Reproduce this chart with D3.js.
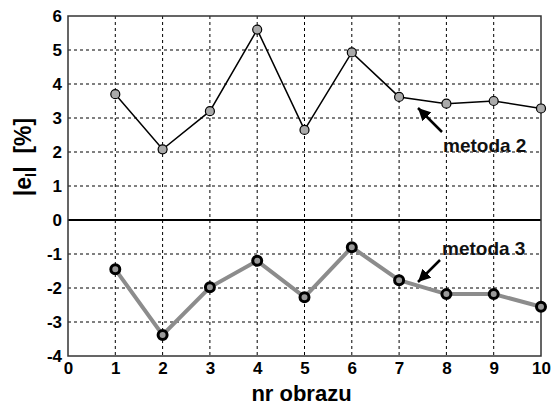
<!DOCTYPE html>
<html>
<head>
<meta charset="utf-8">
<script src="https://cdn.jsdelivr.net/npm/d3@7"></script>
<style>
  body { margin: 0; background: white; }
  text { font-family: "Liberation Sans", Arial, sans-serif; font-weight: bold; }
</style>
</head>
<body>
<svg id="chart" width="552" height="406"></svg>
<script>
// Data
var images = [1, 2, 3, 4, 5, 6, 7, 8, 9, 10];
var metoda2 = [3.7, 2.08, 3.2, 5.6, 2.65, 4.93, 3.62, 3.42, 3.5, 3.28];
var metoda3 = [-1.45, -3.38, -1.98, -1.2, -2.27, -0.8, -1.77, -2.18, -2.18, -2.55];
var xTicks = [0, 1, 2, 3, 4, 5, 6, 7, 8, 9, 10];
var yTicks = [-4, -3, -2, -1, 0, 1, 2, 3, 4, 5, 6];

var svg = d3.select("#chart");
var pLeft = 68, pRight = 541, pTop = 16, pBottom = 356;

var x = d3.scaleLinear().domain([0, 10]).range([pLeft, pRight]);
var y = d3.scaleLinear().domain([-4, 6]).range([pBottom, pTop]);

// Grid
svg.append("g")
  .selectAll("line")
  .data(xTicks.slice(1, -1))
  .enter()
  .append("line")
  .attr("x1", (d) => x(d)).attr("x2", (d) => x(d))
  .attr("y1", pTop).attr("y2", pBottom)
  .attr("stroke", "black").attr("stroke-width", 1)
  .attr("stroke-dasharray", "3,3");

svg.append("g")
  .selectAll("line")
  .data(yTicks.filter((d) => d != 0 && d != -4 && d != 6))
  .enter()
  .append("line")
  .attr("x1", pLeft).attr("x2", pRight)
  .attr("y1", (d) => y(d)).attr("y2", (d) => y(d))
  .attr("stroke", "black").attr("stroke-width", 1)
  .attr("stroke-dasharray", "3,3");

// zero line
svg.append("line")
  .attr("x1", pLeft).attr("x2", pRight)
  .attr("y1", y(0)).attr("y2", y(0))
  .attr("stroke", "black").attr("stroke-width", 2);

// Frame
svg.append("rect")
  .attr("x", pLeft).attr("y", pTop)
  .attr("width", pRight - pLeft).attr("height", pBottom - pTop)
  .attr("fill", "none").attr("stroke", "#333").attr("stroke-width", 1.5);

// Axes
var xAxis = svg.append("g")
  .attr("transform", "translate(0," + pBottom + ")")
  .call(d3.axisBottom(x).tickValues(xTicks).tickSize(0).tickPadding(6).tickFormat(d3.format("d")));
xAxis.select(".domain").remove();
xAxis.selectAll("text").attr("font-size", 17).attr("fill", "black").attr("font-family", null);

var yAxis = svg.append("g")
  .attr("transform", "translate(" + pLeft + ",0)")
  .call(d3.axisLeft(y).tickValues(yTicks).tickSize(0).tickPadding(6).tickFormat((d) => d < 0 ? "-" + Math.abs(d) : d));
yAxis.select(".domain").remove();
yAxis.selectAll("text").attr("font-size", 17).attr("fill", "black").attr("font-family", null);

// Axis labels
svg.append("text")
  .attr("x", (pLeft + pRight) / 2 - 3).attr("y", 401)
  .attr("text-anchor", "middle").attr("font-size", 22)
  .text("nr obrazu");

var ylab = svg.append("text")
  .attr("transform", "translate(31," + 157 + ") rotate(-90)")
  .attr("text-anchor", "middle").attr("font-size", 23);
ylab.append("tspan").text("|e");
ylab.append("tspan").attr("font-size", 15).attr("dy", 5).text("l");
ylab.append("tspan").attr("dy", -5).text("|\u00a0\u00a0[%]");

var line = d3.line().x((d, i) => x(images[i])).y((d) => y(d));

// metoda 3
svg.append("path")
  .attr("d", line(metoda3))
  .attr("fill", "none").attr("stroke", "#8c8c8c").attr("stroke-width", 4);
svg.append("g")
  .selectAll("circle")
  .data(metoda3)
  .enter()
  .append("circle")
  .attr("cx", (d, i) => x(images[i])).attr("cy", (d) => y(d))
  .attr("r", 4.5)
  .attr("fill", "#999").attr("stroke", "black").attr("stroke-width", 3);

// metoda 2
svg.append("path")
  .attr("d", line(metoda2))
  .attr("fill", "none").attr("stroke", "black").attr("stroke-width", 1.5);
svg.append("g")
  .selectAll("circle")
  .data(metoda2)
  .enter()
  .append("circle")
  .attr("cx", (d, i) => x(images[i])).attr("cy", (d) => y(d))
  .attr("r", 4.5)
  .attr("fill", "#aaa").attr("stroke", "black").attr("stroke-width", 1.2);

// Annotations
svg.append("defs")
  .append("marker")
  .attr("id", "head")
  .attr("viewBox", "0 0 10 10")
  .attr("refX", 10).attr("refY", 5)
  .attr("markerWidth", 5).attr("markerHeight", 5)
  .attr("markerUnits", "strokeWidth")
  .attr("orient", "auto")
  .append("path")
  .attr("d", "M0,0 L10,5 L0,10 Z")
  .attr("fill", "black");

var notes = [
  { label: "metoda 2", tx: 443, ty: 152, x1: 442, y1: 132, x2: 418, y2: 108 },
  { label: "metoda 3", tx: 442, ty: 255, x1: 440, y1: 260, x2: 418, y2: 282 },
];
notes.forEach(function (n) {
  svg.append("line")
    .attr("x1", n.x1).attr("y1", n.y1).attr("x2", n.x2).attr("y2", n.y2)
    .attr("stroke", "black").attr("stroke-width", 2.5)
    .attr("marker-end", "url(#head)");
  svg.append("text")
    .attr("x", n.tx).attr("y", n.ty)
    .attr("font-size", 19).attr("fill", "#111")
    .text(n.label);
});
</script>
</body>
</html>
